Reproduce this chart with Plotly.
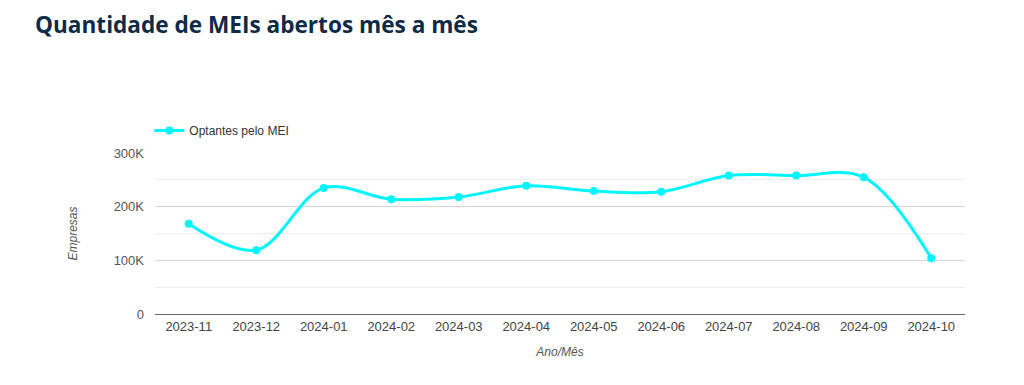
import plotly.graph_objects as go

meses = ["2023-11", "2023-12", "2024-01", "2024-02", "2024-03", "2024-04",
         "2024-05", "2024-06", "2024-07", "2024-08", "2024-09", "2024-10"]
optantes_mei = [168000, 119000, 235000, 214000, 218000, 239000,
                229000, 228000, 258000, 258000, 255000, 104000]
y_ticks = [0, 100000, 200000, 300000]
y_tick_labels = ["0", "100K", "200K", "300K"]

fig = go.Figure()
fig.add_trace(go.Scatter(
    x=meses, y=optantes_mei, name="Optantes pelo MEI",
    mode="lines+markers",
    line=dict(color="#00F5FF", width=3, shape="spline", smoothing=1.0),
    marker=dict(color="#00F5FF", size=8),
))

fig.update_layout(
    width=1016, height=377,
    paper_bgcolor="white", plot_bgcolor="white",
    margin=dict(l=147, r=59, t=145, b=71),
    title=dict(text="<b>Quantidade de MEIs abertos mês a mês</b>",
               x=27/1016, xanchor="left", y=1 - 17/377, yanchor="middle",
               font=dict(family="Open Sans", size=22.6, color="#0E2A47")),
    showlegend=True,
    legend=dict(x=-0.007, xanchor="left", y=1.14, yanchor="middle",
                orientation="h", font=dict(family="Liberation Sans", size=12, color="#333333"),
                bgcolor="rgba(0,0,0,0)"),
    font=dict(family="Liberation Sans", size=12, color="#444444"),
)
fig.update_xaxes(
    type="category", range=[-0.5, 11.5],
    showgrid=False, showline=True, linecolor="#666666", linewidth=1,
    ticks="", tickfont=dict(size=13, color="#444444"),
    title=dict(text="<i>Ano/Mês</i>", font=dict(size=12, color="#555555"), standoff=15),
)
fig.update_yaxes(
    range=[0, 300000], tickvals=y_ticks, ticktext=y_tick_labels,
    showgrid=True, gridcolor="#D4D4D4", gridwidth=1,
    minor=dict(dtick=50000, showgrid=True, gridcolor="#EEEEEE", gridwidth=1),
    zeroline=False, showline=False, ticks="", ticklabelstandoff=10,
    tickfont=dict(size=13, color="#555555"),
    title=dict(text="<i>Empresas</i>", font=dict(size=12, color="#555555"), standoff=33),
)

fig.write_html("out.html")
